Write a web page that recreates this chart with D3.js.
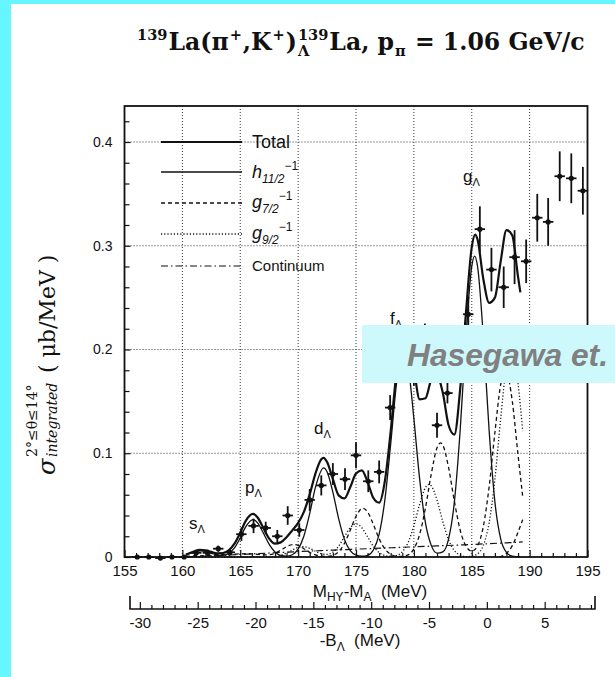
<!DOCTYPE html>
<html><head><meta charset="utf-8">
<script src="https://cdn.jsdelivr.net/npm/d3@7"></script>
<style>
html,body{margin:0;padding:0;background:#fff;}
svg{display:block;}
</style></head><body>
<svg id="chart" width="615" height="677"></svg>
<script>
// ---- measured spectrum: bin centre (M_HY - M_A, MeV), cross section (μb/MeV), error ----
const binM = [156.1,157.1,158.1,159.1,160.15,161.2,162.2,163.1,164.1,165.1,166.15,167.2,168.2,169.1,170.1,171.0,172.0,173.0,174.05,175.0,176.06,177.0,177.95,179.0,180.0,180.95,182.0,182.9,184.7,185.7,186.7,187.76,188.7,189.7,190.66,191.6,192.6,193.6,194.6];
const binSigma = [0,0,-0.001,0,0,0.004,0.004,0.008,0.0045,0.022,0.030,0.028,0.020,0.040,0.026,0.055,0.069,0.080,0.075,0.098,0.073,0.082,0.144,0.195,0.185,0.203,0.127,0.158,0.234,0.316,0.277,0.260,0.289,0.285,0.327,0.323,0.367,0.365,0.353];
const binErr = [0.0005,0.0005,0.0005,0.0005,0.0005,0.003,0.003,0.003,0.003,0.0065,0.007,0.006,0.006,0.009,0.0065,0.0105,0.0097,0.0105,0.0105,0.0125,0.0105,0.011,0.012,0.022,0.02,0.022,0.012,0.01,0.017,0.022,0.021,0.02,0.026,0.021,0.023,0.023,0.024,0.024,0.023];

// ---- fitted curves, [M, σ] ----
const totalCurve = [[160.3,.0023],[160.5,.0031],[161,.0053],[161.5,.0068],[162,.0064],[162.5,.0049],[163,.0036],[163.5,.0037],[164,.0063],[164.5,.0128],[165,.0235],[165.5,.0353],[166.1,.0415],[166.5,.0381],[167,.0279],[167.5,.0178],[168,.0129],[168.5,.0141],[169,.0191],[169.5,.0257],[170,.0329],[170.5,.0435],[171,.0603],[171.5,.0806],[172,.0943],[172.2,.0956],[172.5,.0916],[173,.0752],[173.5,.0594],[174,.0565],[174.5,.0673],[175,.0804],[175.5,.0835],[176,.0724],[176.5,.0569],[177,.0524],[177.5,.0735],[178,.1215],[178.5,.1785],[179.1,.2162],[179.5,.2103],[180,.1813],[180.5,.152],[181,.153],[181.5,.1705],[182,.1748],[182.5,.1582],[183,.127],[183.5,.118],[184,.1619],[184.5,.2355],[185,.2986],[185.3,.3107],[185.5,.306],[186,.268],[186.5,.245],[187,.25],[187.5,.285],[188,.315],[188.5,.31],[189,.27],[189.2,.255]];
const h11Curve = [[160.3,.0021],[160.5,.0028],[161,.0048],[161.6,.006],[162,.0054],[162.5,.0036],[163,.002],[163.5,.0015],[164,.0033],[164.5,.0087],[165,.0184],[165.5,.0295],[166.1,.036],[166.5,.0329],[167,.023],[167.5,.0122],[168,.0049],[168.5,.0016],[169,.0008],[169.5,.0022],[170,.0076],[170.5,.0203],[171,.0419],[171.5,.0673],[172.2,.086],[172.5,.0822],[173,.0625],[173.5,.037],[174,.017],[174.5,.0061],[175,.0017],[175.5,.0007],[176,.0016],[176.5,.0068],[177,.022],[177.5,.0556],[178,.1092],[178.5,.167],[179.1,.2],[179.5,.1846],[180,.1334],[180.5,.075],[181,.0328],[181.5,.0112],[182,.0038],[182.5,.005],[183,.0175],[183.5,.0531],[184,.1221],[184.5,.2123],[185,.2801],[185.25,.29],[185.5,.2801],[186,.2123],[186.5,.1221],[187,.0531],[187.5,.0175],[188,.0044],[188.5,.0008],[189.2,0]];
const g7Curve = [[160.3,.0008],[161,.001],[162,.0013],[163,.0018],[164,.0025],[165,.003],[165.5,.0032],[166,.003],[166.5,.0025],[167,.002],[167.5,.0022],[168,.0036],[168.5,.0066],[169,.01],[169.6,.012],[170,.0111],[170.5,.008],[171,.0045],[171.5,.002],[172,.0008],[172.5,.0006],[173,.0016],[173.5,.0052],[174,.0131],[174.5,.0257],[175,.0392],[175.6,.047],[176,.0434],[176.5,.0314],[177,.0176],[177.5,.0077],[178,.0026],[178.5,.0008],[179,.0005],[179.5,.002],[180,.0078],[180.5,.0218],[181,.0473],[181.5,.0799],[182,.1052],[182.3,.11],[182.5,.1078],[183,.0861],[183.5,.0536],[184,.026],[184.5,.0105],[185,.0057],[185.5,.0107],[186,.0295],[186.5,.0675],[187,.12],[187.5,.1661],[187.9,.18],[188,.179],[188.5,.1503],[189,.0983],[189.4,.0584]];
const g7NextShell = [[187.4,0],[188,.0035],[188.5,.011],[189,.024],[189.4,.036]];
const g9Curve = [[160.3,0],[166.5,0],[167.5,.0001],[168,.0006],[168.5,.0016],[169,.0038],[169.5,.0067],[170,.0092],[170.4,.01],[171,.0084],[171.5,.0055],[172,.0032],[172.5,.0025],[173,.0046],[173.5,.0104],[174,.0194],[174.5,.0282],[175,.032],[175.5,.0282],[176,.0194],[176.5,.0104],[177,.0043],[177.5,.0014],[178,.0007],[178.5,.0014],[179,.005],[179.5,.0139],[180,.0301],[180.5,.0508],[181,.0669],[181.3,.07],[181.5,.0686],[182,.0548],[182.5,.0341],[183,.0165],[183.5,.0062],[184,.0018],[184.5,.0004],[185,.0008],[185.5,.003],[186,.0112],[186.5,.0328],[187,.075],[187.5,.1334],[188,.1846],[188.4,.2],[188.5,.1995],[189,.167],[189.4,.1213]];
const contCurve = [[160.3,.0002],[162,.0009],[164,.0019],[166,.003],[168,.0041],[170,.0052],[172,.0062],[174,.0071],[176,.008],[178,.0089],[180,.0098],[182,.0107],[184,.0116],[186,.0126],[188,.0137],[189.4,.0145]];

// ---- axes, grid, shell labels, legend ----
const xTicks = [155,160,165,170,175,180,185,190,195];
const yTicks = [0,0.1,0.2,0.3,0.4];
const bTicks = [-30,-25,-20,-15,-10,-5,0,5];
const shellNames = ["s","p","d","f","g"];
const shellLabelM = [160.57,165.41,171.37,177.94,184.24];
const shellLabelV = [0.027,0.0617,0.1186,0.2246,0.3614];

const INK = "#111";
const svg = d3.select("#chart");
const W = 615, H = 677;
svg.append("rect").attr("width", W).attr("height", H).attr("fill", "#fff");
svg.append("rect").attr("x", 0).attr("y", 0).attr("width", 11).attr("height", H).attr("fill", "#66f6ff");
svg.append("rect").attr("x", 0).attr("y", 0).attr("width", W).attr("height", 4).attr("fill", "#66f6ff");

const plot = {left: 124.5, right: 587.5, top: 106, bottom: 557};
const x = d3.scaleLinear().domain([155, 195]).range([plot.left, plot.right]);
const y = d3.scaleLinear().domain([0, 0.4]).range([plot.bottom, 142]);
const xb = d3.scaleLinear().domain([-30.85, 9.35]).range([130, 595]);
const SANS = "'Liberation Sans', Arial, Helvetica, sans-serif";
const SERIF = "'DejaVu Serif', 'Liberation Serif', serif";

// dotted grid
const grid = svg.append("g").attr("stroke", "#333").attr("stroke-width", 1).attr("stroke-dasharray", "1,2");
xTicks.slice(1, -1).forEach(v => grid.append("line").attr("x1", x(v)).attr("x2", x(v)).attr("y1", plot.top).attr("y2", plot.bottom));
yTicks.slice(1).forEach(v => grid.append("line").attr("x1", plot.left).attr("x2", plot.right).attr("y1", y(v)).attr("y2", y(v)));

// fitted components
const line = d3.line().x(d => x(d[0])).y(d => y(d[1])).curve(d3.curveMonotoneX);
const styles = [
  {data: contCurve, w: 1.2, dash: "7,3,1.5,3"},
  {data: g9Curve, w: 1.3, dash: "1.2,2"},
  {data: g7Curve, w: 1.3, dash: "4,3"},
  {data: g7NextShell, w: 1.3, dash: "4,3"},
  {data: h11Curve, w: 1.3, dash: null},
  {data: totalCurve, w: 2.2, dash: null}
];
styles.forEach(s => svg.append("path").datum(s.data).attr("d", line)
  .attr("fill", "none").attr("stroke", INK).attr("stroke-width", s.w)
  .attr("stroke-dasharray", s.dash).attr("stroke-linejoin", "round"));

// data points with error bars
const pts = svg.append("g").attr("stroke", INK).attr("fill", INK);
binM.forEach((m, i) => {
  const v = binSigma[i], e = binErr[i];
  pts.append("line").attr("x1", x(m)).attr("x2", x(m)).attr("y1", y(v - e)).attr("y2", y(v + e)).attr("stroke-width", 1.8);
  pts.append("line").attr("x1", x(m - 0.45)).attr("x2", x(m + 0.45)).attr("y1", y(v)).attr("y2", y(v)).attr("stroke-width", 1.8);
  pts.append("circle").attr("cx", x(m)).attr("cy", y(v)).attr("r", 2.6).attr("stroke", "none");
});

// shell labels
shellNames.forEach((n, i) => {
  const t = svg.append("text").attr("x", x(shellLabelM[i])).attr("y", y(shellLabelV[i]))
    .attr("font-family", SANS).attr("font-size", 17).attr("fill", INK);
  t.append("tspan").text(n);
  t.append("tspan").attr("font-size", 11).attr("dy", 4).text("Λ");
});

// axes
function styleAxis(g, size) {
  g.attr("font-family", SANS).attr("font-size", size).attr("color", INK);
  g.selectAll(".domain").remove();
  g.selectAll("line").attr("stroke-width", 1.2);
}
const minorX = d3.range(156, 195).filter(v => v % 5 !== 0);
svg.append("g").attr("transform", `translate(0,${plot.bottom})`)
  .call(d3.axisBottom(x).tickValues(xTicks).tickSize(-7).tickPadding(8).tickFormat(d3.format("d")))
  .call(g => styleAxis(g, 15));
svg.append("g").attr("transform", `translate(0,${plot.bottom})`)
  .call(d3.axisBottom(x).tickValues(minorX).tickSize(-4).tickFormat(""))
  .call(g => styleAxis(g, 15));
const minorY = d3.range(1, 22).map(k => k * 0.02).filter(v => Math.abs(v * 10 - Math.round(v * 10)) > 1e-6);
svg.append("g").attr("transform", `translate(${plot.left},0)`)
  .call(d3.axisLeft(y).tickValues(yTicks).tickSize(-6).tickPadding(12).tickFormat(d => d === 0 ? "0" : d.toFixed(1)))
  .call(g => styleAxis(g, 14));
svg.append("g").attr("transform", `translate(${plot.left},0)`)
  .call(d3.axisLeft(y).tickValues(minorY).tickSize(-5).tickFormat(""))
  .call(g => styleAxis(g, 14));

// frame
svg.append("rect").attr("x", plot.left).attr("y", plot.top)
  .attr("width", plot.right - plot.left).attr("height", plot.bottom - plot.top)
  .attr("fill", "none").attr("stroke", INK).attr("stroke-width", 1.8);

// binding-energy axis
const bY = 609;
svg.append("g").attr("transform", `translate(0,${bY})`)
  .call(d3.axisBottom(xb).tickValues(bTicks).tickSize(-7).tickPadding(8).tickFormat(d => String(d)))
  .call(g => styleAxis(g, 15));
svg.append("g").attr("transform", `translate(0,${bY})`)
  .call(d3.axisBottom(xb).tickValues(d3.range(-30, 10).filter(v => v % 5 !== 0)).tickSize(-4).tickFormat(""))
  .call(g => styleAxis(g, 15));
svg.append("path").attr("d", `M${xb.range()[0]},${bY - 13}V${bY}H${xb.range()[1]}V${bY - 13}`)
  .attr("fill", "none").attr("stroke", INK).attr("stroke-width", 1.6);

// axis titles
const xt = svg.append("text").attr("x", 370).attr("y", 597).attr("text-anchor", "middle")
  .attr("font-family", SANS).attr("font-size", 17).attr("fill", INK);
xt.append("tspan").text("M");
xt.append("tspan").attr("font-size", 12).attr("dy", 4).text("HY");
xt.append("tspan").attr("dy", -4).text("-M");
xt.append("tspan").attr("font-size", 12).attr("dy", 4).text("A");
xt.append("tspan").attr("dy", -4).text("\u00a0\u00a0(MeV)");

const bt = svg.append("text").attr("x", 360).attr("y", 646).attr("text-anchor", "middle")
  .attr("font-family", SANS).attr("font-size", 17).attr("fill", INK);
bt.append("tspan").text("-B");
bt.append("tspan").attr("font-size", 12).attr("dy", 5).text("Λ");
bt.append("tspan").attr("dy", -5).text("\u00a0\u00a0(MeV)");

// y-axis title, rotated
const yt = svg.append("g").attr("transform", "translate(55,475) rotate(-90)")
  .attr("font-family", SERIF).attr("fill", INK);
yt.append("text").attr("x", 0).attr("y", 0).attr("font-size", 24).attr("font-style", "italic").text("σ");
yt.append("text").attr("x", 18).attr("y", -18).attr("font-size", 14).text("2°≤θ≤14°");
yt.append("text").attr("x", 18).attr("y", 2).attr("font-size", 14).attr("font-style", "italic").text("integrated");
yt.append("text").attr("x", 102).attr("y", 0).attr("font-size", 22).text("( μb/MeV )");

// title
function drawTitle(k) {
  const g = svg.append("g").attr("font-family", SERIF).attr("font-weight", "bold").attr("fill", INK);
  const big = 21 * k, small = 13 * k;
  const pieces = [
    {t: "139", s: small, dy: -9 * k},
    {t: "La(π", s: big, dy: 0},
    {t: "+", s: small, dy: -9 * k},
    {t: ",K", s: big, dy: 0},
    {t: "+", s: small, dy: -9 * k},
    {t: ")", s: big, dy: 0},
    {t: "139", s: small, dy: -9 * k, stack: {t: "Λ", s: small, dy: 5 * k}},
    {t: "La, p", s: big, dy: 0},
    {t: "π", s: small, dy: 5 * k},
    {t: "\u00a0= 1.06 GeV/c", s: big, dy: 0}
  ];
  let cx = 137;
  const base = 50;
  pieces.forEach(p => {
    const t = g.append("text").attr("x", cx).attr("y", base + p.dy).attr("font-size", p.s).text(p.t);
    let w = t.node().getComputedTextLength();
    if (p.stack) {
      const t2 = g.append("text").attr("x", cx).attr("y", base + p.stack.dy).attr("font-size", p.stack.s).text(p.stack.t);
      w = Math.max(w, t2.node().getComputedTextLength());
    }
    cx += w + 1;
  });
  return {g, width: cx - 137};
}
let ttl = drawTitle(1);
const kFit = 450 / ttl.width;
ttl.g.remove();
drawTitle(kFit);

// legend
const legY = [142, 172, 203, 234, 266];
const legStyle = [{w: 2.2, dash: null}, {w: 1.3, dash: null}, {w: 1.3, dash: "4,3"}, {w: 1.3, dash: "1.2,2"}, {w: 1.2, dash: "7,3,1.5,3"}];
legY.forEach((ly, i) => svg.append("line").attr("x1", 161).attr("x2", 242).attr("y1", ly).attr("y2", ly)
  .attr("stroke", INK).attr("stroke-width", legStyle[i].w).attr("stroke-dasharray", legStyle[i].dash));
const lg = svg.append("g").attr("font-family", SANS).attr("fill", INK);
lg.append("text").attr("x", 252).attr("y", 148).attr("font-size", 18).text("Total");
[["h", "11/2", 178], ["g", "7/2", 208], ["g", "9/2", 239]].forEach(([l, sub, by]) => {
  const t = lg.append("text").attr("x", 252).attr("y", by).attr("font-size", 18);
  t.append("tspan").attr("font-style", "italic").text(l);
  t.append("tspan").attr("font-size", 12).attr("font-style", "italic").attr("dy", 5).text(sub);
  t.append("tspan").attr("font-size", 12).attr("dy", -13).text("−1");
});
lg.append("text").attr("x", 252).attr("y", 271).attr("font-size", 15).text("Continuum");

// credit banner
svg.append("rect").attr("x", 362).attr("y", 325).attr("width", W - 362).attr("height", 58).attr("fill", "#cdf9fc");
svg.append("text").attr("x", 407).attr("y", 366).attr("font-family", SANS).attr("font-weight", "bold")
  .attr("font-style", "italic").attr("font-size", 31).attr("fill", "#808080")
  .attr("textLength", 201).attr("lengthAdjust", "spacingAndGlyphs").text("Hasegawa et.");
</script>
</body></html>
